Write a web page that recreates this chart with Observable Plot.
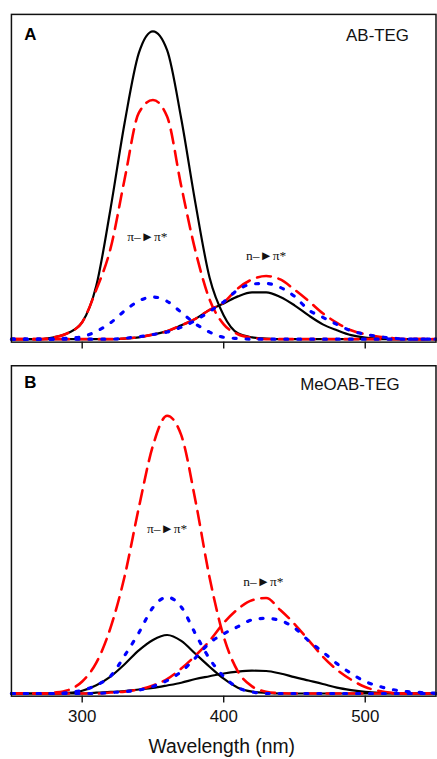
<!DOCTYPE html>
<html><head><meta charset="utf-8">
<script src="https://cdn.jsdelivr.net/npm/d3@7"></script>
<script src="https://cdn.jsdelivr.net/npm/@observablehq/plot@0.6"></script>
<style>
html,body{margin:0;padding:0;overflow:hidden;background:#fff;width:437px;height:759px}
#c svg{display:block}
</style></head><body><div id="c"></div>
<script>
const wavelength = [250,260,270,280,290,300,310,320,330,340,350,360,370,380,390,400,410,420,430,440,450,460,470,480,490,500,510,520,530,540,550];
const xTicks = [300, 400, 500];

// Panel A: AB-TEG
const abPiBlack = [0,0,0,0.006,0.02,0.055,0.174,0.423,0.703,0.929,1.0,0.939,0.716,0.442,0.2,0.077,0.019,0.006,0.002,0,0,0,0,0,0,0,0,0,0,0,0];
const abPiRed   = [0,0,0,0.006,0.02,0.055,0.161,0.294,0.52,0.735,0.777,0.723,0.497,0.287,0.129,0.048,0.016,0.005,0,0,0,0,0,0,0,0,0,0,0,0,0];
const abPiBlue  = [0,0,0,0,0.003,0.008,0.025,0.053,0.092,0.124,0.137,0.123,0.087,0.05,0.023,0.006,0.002,0,0,0,0,0,0,0,0,0,0,0,0,0,0];
const abNBlack  = [0,0,0,0,0,0,0,0,0.002,0.006,0.015,0.026,0.045,0.066,0.095,0.116,0.139,0.152,0.152,0.137,0.11,0.077,0.048,0.029,0.013,0.005,0.002,0,0,0,0];
const abNRed    = [0,0,0,0,0,0,0,0,0.002,0.006,0.015,0.026,0.045,0.066,0.095,0.119,0.165,0.194,0.205,0.194,0.161,0.124,0.084,0.053,0.029,0.016,0.008,0.003,0,0,0];
const abNBlue   = [0,0,0,0,0,0,0,0,0.003,0.008,0.015,0.023,0.039,0.061,0.09,0.121,0.16,0.179,0.181,0.168,0.139,0.095,0.071,0.048,0.027,0.016,0.008,0.003,0,0,0];

// Panel B: MeOAB-TEG
const meoPiBlack = [0,0,0,0,0.002,0.009,0.027,0.055,0.095,0.14,0.174,0.19,0.171,0.129,0.087,0.048,0.019,0.006,0.002,0,0,0,0,0,0,0,0,0,0,0,0];
const meoPiRed   = [0,0,0,0.003,0.011,0.039,0.1,0.213,0.381,0.603,0.805,0.902,0.839,0.627,0.377,0.184,0.072,0.023,0.006,0.001,0,0,0,0,0,0,0,0,0,0,0];
const meoPiBlue  = [0,0,0,0,0.003,0.01,0.027,0.056,0.123,0.197,0.279,0.313,0.281,0.194,0.113,0.055,0.019,0.005,0,0,0,0,0,0,0,0,0,0,0,0,0];
const meoNBlack  = [0,0,0,0,0,0,0.003,0.005,0.008,0.013,0.018,0.026,0.035,0.047,0.056,0.065,0.071,0.074,0.073,0.065,0.053,0.042,0.031,0.019,0.011,0.005,0.002,0.001,0,0,0];
const meoNRed    = [0,0,0,0,0,0,0,0.003,0.006,0.013,0.026,0.047,0.081,0.123,0.171,0.229,0.274,0.303,0.31,0.271,0.226,0.173,0.12,0.077,0.045,0.021,0.008,0.002,0,0,0];
const meoNBlue   = [0,0,0,0,0,0,0,0.003,0.006,0.011,0.023,0.042,0.071,0.116,0.164,0.194,0.217,0.239,0.244,0.237,0.213,0.171,0.135,0.097,0.065,0.039,0.023,0.012,0.006,0.003,0.001];

const panelLetters = ["A", "B"];
const panelNames = ["AB-TEG", "MeOAB-TEG"];
const bandLabels = ["\u03C0\u2013\u25BA\u03C0*", "n\u2013\u25BA\u03C0*"];
const bandPosA = [[346, 0.332], [430, 0.272]];
const bandPosB = [[360, 0.534], [428, 0.362]];

function rows(list) {
  return list.flatMap((vals, k) => wavelength.map((w, i) => ({w, v: vals[i], k})));
}
const solid = {stroke: "#000", strokeWidth: 2.2, curve: "monotone-x"};
const dashed = {stroke: "#ff0000", strokeWidth: 2.6, strokeDasharray: "14,8", curve: "monotone-x"};
const dotted = {stroke: "#0000ff", strokeWidth: 3.2, strokeDasharray: "3,10", curve: "monotone-x"};

function panel({black, red, blue, letter, name, labels, pos, height, mt, mb, yDomain, bottomAxis, letterDy, nameDx, nameDy}) {
  const marks = [
    Plot.line(rows(black), {x: "w", y: "v", z: "k", ...solid}),
    Plot.line(rows(red), {x: "w", y: "v", z: "k", ...dashed}),
    Plot.line(rows(blue), {x: "w", y: "v", z: "k", ...dotted}),
    Plot.frame({stroke: "#111", strokeWidth: 1.5}),
    Plot.text([letter], {frameAnchor: "top-left", dx: 13, dy: letterDy, text: d => d, textAnchor: "start", lineAnchor: "middle", fontSize: 17, fontWeight: "bold", fill: "#000"}),
    Plot.text([name], {frameAnchor: "top-left", dx: nameDx, dy: nameDy, text: d => d, textAnchor: "start", lineAnchor: "middle", fontSize: 17, fill: "#111"}),
    Plot.text(labels.map((t, i) => ({t, x: pos[i][0], y: pos[i][1]})), {x: "x", y: "y", text: "t", textAnchor: "middle", lineAnchor: "middle", fontSize: 13.5, fontFamily: "Liberation Serif, Times New Roman, serif", fill: "#111"})
  ];
  if (bottomAxis) {
    marks.push(Plot.axisX({ticks: xTicks, tickSize: 7, tickPadding: 7, fontSize: 17, label: null, strokeWidth: 1.4, stroke: "#111", fill: "#111"}));
    marks.push(Plot.text(["Wavelength (nm)"], {frameAnchor: "bottom", dy: 51, dx: -2, text: d => d, lineAnchor: "middle", fontSize: 19.5, fill: "#111"}));
  } else {
    marks.push(Plot.axisX({ticks: xTicks, tickSize: 7, tickFormat: () => "", label: null, strokeWidth: 1.4, stroke: "#111"}));
  }
  return Plot.plot({
    width: 440, height, marginLeft: 11, marginRight: 1.5, marginTop: mt, marginBottom: mb,
    x: {domain: [250, 550]},
    y: {domain: yDomain, axis: null},
    style: {fontFamily: "Liberation Sans, Arial, sans-serif", background: "white", overflow: "visible"},
    marks
  });
}

const c = document.getElementById("c");
c.append(panel({black: [abPiBlack, abNBlack], red: [abPiRed, abNRed], blue: [abPiBlue, abNBlue],
  letter: panelLetters[0], name: panelNames[0], labels: bandLabels, pos: bandPosA,
  height: 360, mt: 14, mb: 16, yDomain: [-0.0097, 1.055], bottomAxis: false, letterDy: 20, nameDx: 337, nameDy: 21}));
c.append(panel({black: [meoPiBlack, meoNBlack], red: [meoPiRed, meoNRed], blue: [meoPiBlue, meoNBlue],
  letter: panelLetters[1], name: panelNames[1], labels: bandLabels, pos: bandPosB,
  height: 399, mt: 7.3, mb: 59, yDomain: [-0.0087, 1.0645], bottomAxis: true, letterDy: 16.7, nameDx: 290.7, nameDy: 18.7}));
</script></body></html>
